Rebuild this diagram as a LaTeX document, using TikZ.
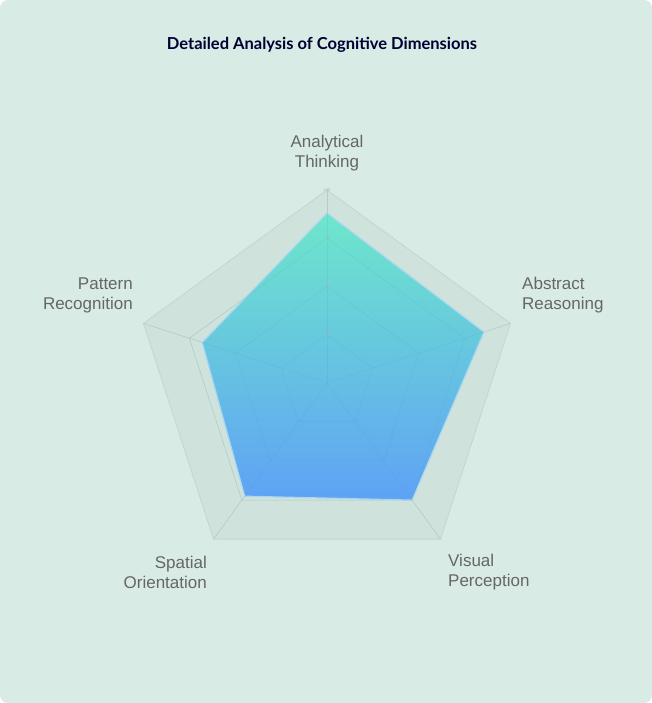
\documentclass[tikz,border=0pt]{standalone}
\usepackage{fontspec}
\setmainfont{Liberation Sans}
\newfontfamily\titlefont{Lato}
\usetikzlibrary{calc}
\definecolor{bg}{HTML}{D8EBE4}
\definecolor{ring}{HTML}{C3D6CF}
\definecolor{web}{HTML}{D0E2DC}
\definecolor{lab}{HTML}{666666}
\definecolor{topc}{HTML}{6EE7CB}
\definecolor{botc}{HTML}{5FA2F5}
\definecolor{edge}{HTML}{A8D8F0}
\begin{document}
\begin{tikzpicture}[x=1pt,y=1pt,
  lbl/.style={text=lab,font=\fontsize{17}{20}\selectfont,inner sep=0pt},
  tick/.style={text=lab!50,font=\fontsize{4}{4}\selectfont,inner sep=0pt}]
\useasboundingbox (0,0) rectangle (652,703);
\fill[white] (0,0) rectangle (652,703);
\fill[bg,rounded corners=8pt] (0,0) rectangle (652,703);
\coordinate (c) at (327,320);
\node[font=\titlefont\bfseries\fontsize{16.5}{19}\selectfont,text=black!80!blue] (title) at (322,658) {Detailed Analysis of Cognitive Dimensions};
\def\R{193}
\fill[web,draw=ring,line width=0.8pt] ($(c)+(90:\R)$) -- ($(c)+(18:\R)$) -- ($(c)+(-54:\R)$) -- ($(c)+(-126:\R)$) -- ($(c)+(162:\R)$) -- cycle;
\foreach \f in {0.25,0.5,0.75}{
  \draw[ring,line width=0.6pt] ($(c)+(90:\f*\R)$) -- ($(c)+(18:\f*\R)$) -- ($(c)+(-54:\f*\R)$) -- ($(c)+(-126:\f*\R)$) -- ($(c)+(162:\f*\R)$) -- cycle;}
\foreach \a in {90,18,-54,-126,162}{\draw[ring,line width=0.6pt] (c) -- ($(c)+(\a:\R)$);}
\shade[top color=topc,bottom color=botc,draw=edge,line width=1.2pt,line join=round]
  ($(c)+(90:0.88*\R)$) -- ($(c)+(18:0.855*\R)$) -- ($(c)+(-54:0.75*\R)$) -- ($(c)+(-126:0.725*\R)$) -- ($(c)+(162:0.68*\R)$) -- cycle;
\foreach \a in {90,18,-54,-126,162}{\draw[black!30!cyan,opacity=0.12,line width=0.6pt] (c) -- ($(c)+(\a:\R)$);}
\foreach \f in {0.25,0.5,0.75}{
  \draw[black!30!cyan,opacity=0.12,line width=0.6pt] ($(c)+(90:\f*\R)$) -- ($(c)+(18:\f*\R)$) -- ($(c)+(-54:\f*\R)$) -- ($(c)+(-126:\f*\R)$) -- ($(c)+(162:\f*\R)$) -- cycle;}
\node[tick] (t25) at ($(c)+(0,0.25*\R)$) {25};
\node[tick] (t50) at ($(c)+(0,0.5*\R)$) {50};
\node[tick] (t75) at ($(c)+(0,0.75*\R)$) {75};
\node[tick] (t100) at ($(c)+(0,\R)$) {100};
\node[lbl,align=center] (l1) at (327,550) {Analytical\\Thinking};
\node[lbl,align=left,anchor=west] (l2) at (522,408) {Abstract\\Reasoning};
\node[lbl,align=left,anchor=west] (l3) at (448,131) {Visual\\Perception};
\node[lbl,align=right,anchor=east] (l4) at (207,131) {Spatial\\Orientation};
\node[lbl,align=right,anchor=east] (l5) at (133,408) {Pattern\\Recognition};
\end{tikzpicture}
\end{document}
